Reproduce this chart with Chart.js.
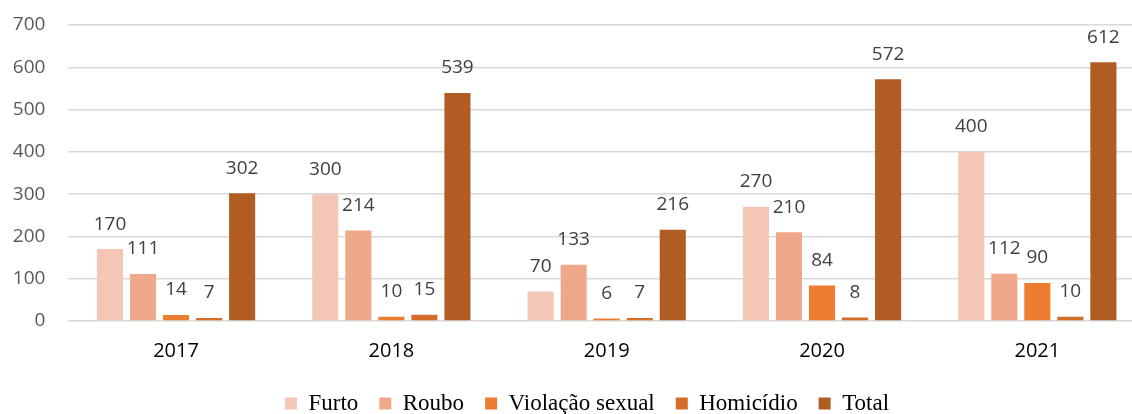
<!DOCTYPE html>
<html>
<head>
<meta charset="utf-8">
<script src="https://cdn.jsdelivr.net/npm/chart.js@4"></script>
<style>
  html, body { margin: 0; padding: 0; overflow: hidden; background: #fff; }
  #wrap { position: absolute; left: 0; top: 0; width: 1145px; height: 425px; }
</style>
</head>
<body>
<div id="wrap"><canvas id="c" width="1145" height="425"></canvas></div>
<script>
const years = ['2017', '2018', '2019', '2020', '2021'];
const seriesNames = ['Furto', 'Roubo', 'Violação sexual', 'Homicídio', 'Total'];
const furto = [170, 300, 70, 270, 400];
const roubo = [111, 214, 133, 210, 112];
const violacao = [14, 10, 6, 84, 90];
const homicidio = [7, 15, 7, 8, 10];
const total = [302, 539, 216, 572, 612];
const colors = ['#F4C6B6', '#F0A88A', '#ED7D31', '#D46C2A', '#B05C23'];
const yTicks = [0, 100, 200, 300, 400, 500, 600, 700];

const seriesData = [furto, roubo, violacao, homicidio, total];

const labelPlugin = {
  id: 'valueLabels',
  afterLayout(chart) {
    // shift the legend box so it is centred like the reference
    if (chart.legend) { chart.legend.left += 29; }
  },
  afterDatasetsDraw(chart) {
    const ctx = chart.ctx;
    ctx.save();
    ctx.font = '19px "Open Sans"';
    ctx.fillStyle = '#404040';
    ctx.textAlign = 'center';
    ctx.textBaseline = 'middle';
    chart.data.datasets.forEach((ds, i) => {
      const meta = chart.getDatasetMeta(i);
      meta.data.forEach((bar, j) => {
        ctx.fillText(String(ds.data[j]), bar.x, bar.y - 25);
      });
    });
    ctx.restore();
  }
};

new Chart(document.getElementById('c'), {
  type: 'bar',
  data: {
    labels: years,
    datasets: seriesNames.map((name, i) => ({
      label: name,
      data: seriesData[i],
      backgroundColor: colors[i],
      borderWidth: 0,
      categoryPercentage: 0.767,
      barPercentage: 0.79
    }))
  },
  options: {
    responsive: false,
    animation: false,
    devicePixelRatio: 1,
    layout: { padding: { left: 0, right: 0, top: 25, bottom: 0 } },
    plugins: {
      legend: {
        position: 'bottom',
        labels: {
          boxWidth: 12,
          boxHeight: 12,
          padding: 21,
          color: '#000000',
          font: { family: '"Liberation Serif", "Times New Roman", serif', size: 23 }
        }
      },
      tooltip: { enabled: false }
    },
    scales: {
      x: {
        grid: { display: false, drawTicks: false },
        border: { display: false },
        ticks: {
          color: '#000000',
          padding: 18,
          font: { family: '"Open Sans"', size: 20 }
        },
        afterFit(axis) { axis.height = 50; }
      },
      y: {
        min: 0,
        max: 700,
        afterBuildTicks(axis) { axis.ticks = yTicks.map(v => ({ value: v })); },
        grid: { color: '#D9D9D9', lineWidth: 1.5, drawTicks: false },
        border: { display: false },
        ticks: {
          color: '#595959',
          padding: 23,
          font: { family: '"Open Sans"', size: 19 }
        },
        afterFit(axis) {
          axis.width = 68.4;
          axis.paddingTop = 0;
          axis.paddingBottom = 0;
        }
      }
    }
  },
  plugins: [labelPlugin]
});
</script>
</body>
</html>
